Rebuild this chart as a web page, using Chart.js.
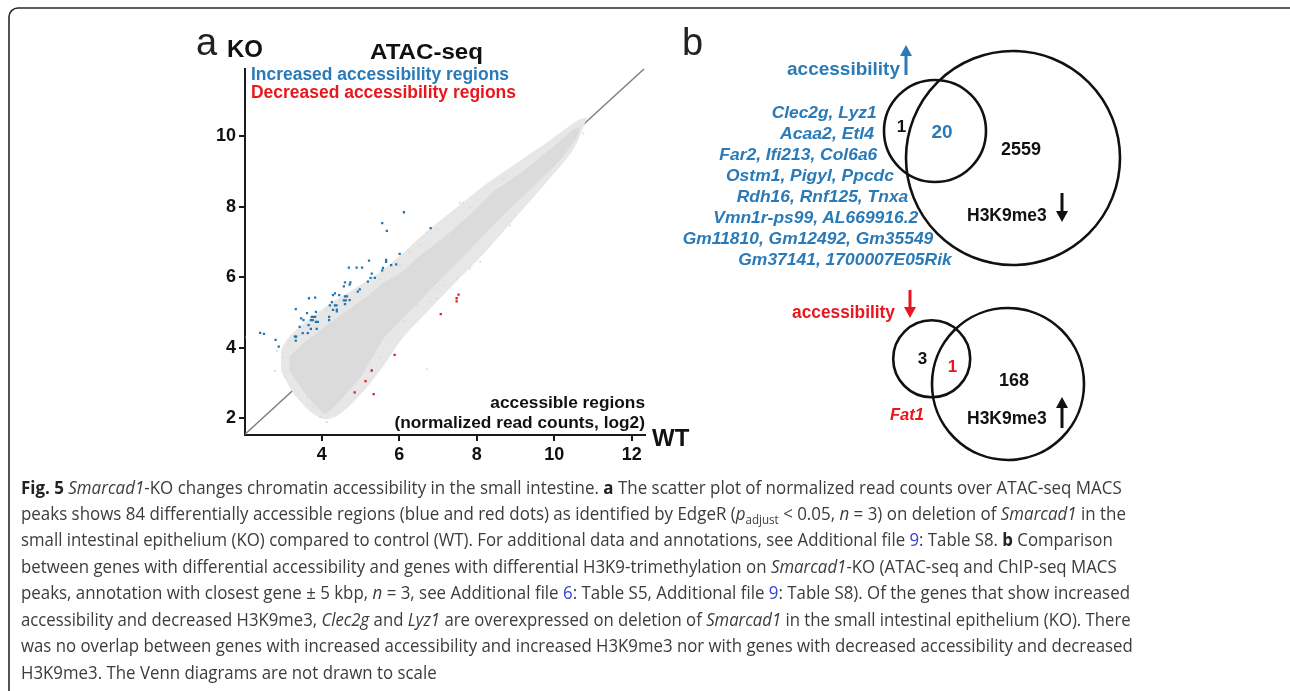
<!DOCTYPE html>
<html>
<head>
<meta charset="utf-8">
<script src="https://cdn.jsdelivr.net/npm/chart.js@4.4.1/dist/chart.umd.min.js"></script>
<style>
html, body { margin: 0; padding: 0; background: #fff; width: 1290px; height: 691px; overflow: hidden; }
#plot { position: absolute; left: 180px; top: 55px; width: 470px; height: 415px; }
#overlay { position: absolute; left: 0; top: 0; pointer-events: none; }
</style>
</head>
<body>
<div id="plot"><canvas id="scatter"></canvas></div>
<svg id="overlay" width="1290" height="691"></svg>
<script>
// ---- Panel a: ATAC-seq scatter (log2 normalized read counts, WT vs KO) ----
const xTicks = [4, 6, 8, 10, 12]
const yTicks = [2, 4, 6, 8, 10]

// Increased accessibility regions (blue)
const blueX = [6.12,5.56,5.68,6.81,6.01,5.22,5.66,5.66,5.92,5.79,5.58,5.56,4.70,4.90,5.04,5.29,5.26,5.37,5.19,4.60,4.74,4.72,4.57,4.98,4.93,4.34,4.29,4.45,4.60,4.65,3.67,3.83,4.26,4.57,4.62,4.72,4.60,4.21,4.34,4.38,3.33,4.29,4.39,4.39,3.62,3.85,4.19,3.74,3.78,3.83,3.47,3.53,3.72,3.77,3.85,3.90,4.19,3.66,3.43,3.72,3.87,2.41,2.51,3.31,3.34,3.51,3.64,2.81,3.33,2.89,2.01]
const blueY = [7.85,7.54,7.32,7.40,6.67,6.48,6.50,6.44,6.37,6.35,6.27,6.20,6.28,6.28,6.28,6.11,5.99,5.99,5.88,5.86,5.86,5.80,5.75,5.66,5.60,5.55,5.50,5.50,5.46,5.46,5.41,5.43,5.30,5.35,5.35,5.36,5.24,5.21,5.21,5.21,5.10,5.08,5.09,5.04,4.99,5.02,4.88,4.88,4.88,4.88,4.84,4.79,4.79,4.79,4.74,4.74,4.79,4.65,4.60,4.54,4.54,4.43,4.40,4.32,4.32,4.42,4.42,4.23,4.21,4.04,4.30]

// Decreased accessibility regions (red)
const redX = [7.53,7.48,7.48,7.07,5.88,5.29,5.13,4.85,5.34]
const redY = [5.51,5.41,5.32,4.96,3.80,3.36,3.06,2.74,2.69]

// All other regions: dense cloud outline, sparse fringe outline, scattered outliers (gray)
const cloudTopX = [3.18,3.18,3.50,3.95,4.65,5.25,5.55,6.10,6.45,7.23,7.90,8.40,9.15,9.89,10.49,10.65]
const cloudTopY = [3.35,3.75,4.10,4.48,5.04,5.51,5.80,6.16,6.53,7.19,7.84,8.40,8.96,9.62,10.18,10.25]
const cloudBottomX = [3.18,3.53,3.87,4.09,4.39,4.99,5.59,6.32,7.10,7.83,8.60,9.42,10.15,10.58,10.65]
const cloudBottomY = [3.35,2.79,2.33,2.12,2.42,3.17,4.29,5.12,6.00,6.81,7.70,8.55,9.34,9.99,10.25]
const fringeTopX = [2.95,2.95,3.15,3.60,4.20,4.80,5.50,6.10,6.70,7.50,8.30,9.10,9.90,10.60,10.85]
const fringeTopY = [3.35,3.90,4.30,4.75,5.25,5.65,6.15,6.70,7.30,8.00,8.70,9.30,9.90,10.45,10.55]
const fringeBottomX = [2.95,3.25,3.70,4.10,4.50,5.10,5.60,6.10,6.70,7.40,8.20,9.00,9.80,10.50,10.85]
const fringeBottomY = [3.35,2.75,2.20,1.98,2.15,2.80,3.50,4.30,5.00,5.80,6.70,7.70,8.70,9.65,10.55]
const haloX = [2.84,3.01,2.79,3.05,3.61,3.78,3.96,4.13,4.90,5.25,5.50,6.71,5.76,6.11,6.45,6.97,3.18,3.44,3.70,4.13,4.47,4.90,5.50,6.71,6.97,6.54,6.28,6.02,7.57,7.83,8.43,8.69,8.86,8.09,7.83,7.48,7.14,6.97,6.79,10.58,10.75,7.65]
const haloY = [3.92,3.73,3.35,3.17,2.61,2.33,2.04,1.90,3.07,3.35,3.73,3.40,4.48,4.76,5.23,5.69,4.20,4.38,4.66,5.04,5.32,5.60,5.97,7.28,7.37,6.91,6.73,6.35,8.12,8.00,8.31,8.78,7.47,6.44,6.25,5.97,5.79,5.41,5.32,10.09,10.09,8.12]

// Reference diagonal
const diagX = [2.02, 12.32]
const diagY = [1.55, 11.92]

// ---- Panel b: Venn counts and gene names ----
const vennUpCounts = [1, 20, 2559]       // accessibility up only, overlap, H3K9me3 down only
const vennDownCounts = [3, 1, 168]       // accessibility down only, overlap, H3K9me3 up only
const upGenes = ['Clec2g, Lyz1', 'Acaa2, Etl4', 'Far2, Ifi213, Col6a6', 'Ostm1, Pigyl, Ppcdc',
  'Rdh16, Rnf125, Tnxa', 'Vmn1r-ps99, AL669916.2', 'Gm11810, Gm12492, Gm35549', 'Gm37141, 1700007E05Rik']
const downGenes = ['Fat1']

const BLUE = '#1f77b4'
const BLUE_TXT = '#2a7ab7'
const RED = '#e8171e'
const GRAY = '#dbdbdb'
const LIGHT = '#e7e7e7'
const BOLD = 'Liberation Sans, Arial, sans-serif'

const pts = (xs, ys) => xs.map((x, i) => ({ x: x, y: ys[i] }))

const axisFont = { family: BOLD, weight: 'bold', size: 18 }

new Chart(document.getElementById('scatter'), {
	type: 'scatter',
	data: {
		datasets: [
			{ data: pts(blueX, blueY), backgroundColor: BLUE, pointStyle: 'rect', pointRadius: 1.6, borderWidth: 0, order: 0 },
			{ data: pts(redX, redY), backgroundColor: RED, pointStyle: 'rect', pointRadius: 1.6, borderWidth: 0, order: 0 },
			{ data: pts(haloX, haloY), backgroundColor: GRAY, pointStyle: 'rect', pointRadius: 1.3, borderWidth: 0, order: 1 },
			{ data: pts(cloudTopX, cloudTopY), showLine: true, pointRadius: 0, borderWidth: 1, borderColor: GRAY,
				backgroundColor: GRAY, fill: '+1', tension: 0, order: 2 },
			{ data: pts(cloudBottomX, cloudBottomY), showLine: true, pointRadius: 0, borderWidth: 1, borderColor: GRAY,
				fill: false, tension: 0, order: 2 },
			{ data: pts(fringeTopX, fringeTopY), showLine: true, pointRadius: 0, borderWidth: 0, borderColor: 'rgba(0,0,0,0)',
				backgroundColor: LIGHT, fill: '+1', tension: 0.3, order: 2.5 },
			{ data: pts(fringeBottomX, fringeBottomY), showLine: true, pointRadius: 0, borderWidth: 0, borderColor: 'rgba(0,0,0,0)',
				fill: false, tension: 0.3, order: 2.5 },
			{ data: pts(diagX, diagY), showLine: true, pointRadius: 0, borderWidth: 1.5, borderColor: '#7f7f7f',
				fill: false, order: 3 }
		]
	},
	options: {
		responsive: true,
		maintainAspectRatio: false,
		animation: false,
		events: [],
		layout: { padding: { top: 10, right: 5, left: 0, bottom: 0 } },
		plugins: { legend: { display: false }, tooltip: { enabled: false } },
		scales: {
			x: {
				type: 'linear', min: 2.02, max: 12.34,
				afterBuildTicks: (s) => { s.ticks = xTicks.map(v => ({ value: v })) },
				afterFit: (s) => { s.height = 35 },
				border: { display: true, color: '#1a1a1a', width: 2 },
				grid: { display: true, drawOnChartArea: false, drawTicks: true, tickLength: 6, color: '#1a1a1a', lineWidth: 2 },
				ticks: { font: axisFont, color: '#111', padding: 3, maxRotation: 0 }
			},
			y: {
				type: 'linear', min: 1.53, max: 11.92,
				afterBuildTicks: (s) => { s.ticks = yTicks.map(v => ({ value: v })) },
				afterFit: (s) => { s.width = 65 },
				border: { display: true, color: '#1a1a1a', width: 2 },
				grid: { display: true, drawOnChartArea: false, drawTicks: true, tickLength: 6, color: '#1a1a1a', lineWidth: 2 },
				ticks: { font: axisFont, color: '#111', padding: 3 }
			}
		}
	}
})

// ---- Overlay: labels, Venn diagrams, caption ----
const NS = 'http://www.w3.org/2000/svg'
const svg = document.getElementById('overlay')

function el(name, attrs) {
	const e = document.createElementNS(NS, name)
	for (const k in attrs) e.setAttribute(k, attrs[k])
	svg.appendChild(e)
	return e
}

function txt(s, x, y, o) {
	const t = el('text', {
		x: x, y: y,
		'font-family': o.family || BOLD,
		'font-size': o.size,
		'font-weight': o.weight || 'bold',
		'font-style': o.italic ? 'italic' : 'normal',
		fill: o.color || '#111',
		'text-anchor': o.anchor || 'start'
	})
	if (o.len) { t.setAttribute('textLength', o.len); t.setAttribute('lengthAdjust', 'spacingAndGlyphs') }
	t.textContent = s
	return t
}

function arrow(x, yTail, yHead, color) {
	const dir = yHead < yTail ? -1 : 1
	const headLen = 11
	const neck = yHead - dir * headLen
	el('line', { x1: x, y1: yTail, x2: x, y2: neck, stroke: color, 'stroke-width': 3 })
	el('polygon', { points: `${x - 6},${neck} ${x + 6},${neck} ${x},${yHead}`, fill: color })
}

// frame
el('rect', { x: 9, y: 8, width: 1300, height: 700, rx: 9, ry: 9, fill: 'none', stroke: '#2a2a2a', 'stroke-width': 1.6 })

// panel a labels
txt('a', 196, 55, { size: 38, weight: 'normal', color: '#222' })
txt('KO', 227, 57, { size: 24 })
txt('ATAC-seq', 370, 58.5, { size: 22.5, len: 113 })
txt('Increased accessibility regions', 251, 79.5, { size: 17.5, color: BLUE_TXT, len: 258 })
txt('Decreased accessibility regions', 251, 97.5, { size: 17.5, color: RED, len: 265 })
txt('accessible regions', 645, 408, { size: 17.3, anchor: 'end' })
txt('(normalized read counts, log2)', 645, 428, { size: 17.3, anchor: 'end' })
txt('WT', 652, 446, { size: 24 })

// panel b
txt('b', 682, 55, { size: 38, weight: 'normal', color: '#222' })

// upper Venn: accessibility up vs H3K9me3 down
txt('accessibility', 787, 74.5, { size: 19, color: BLUE_TXT, len: 113 })
arrow(906, 75, 45, BLUE_TXT)
const upGeneLeft = [771.7, 780, 719.3, 726, 736.7, 713.3, 682.7, 738.3]
const upGeneRight = [876.7, 874, 877.3, 894, 908.3, 918.3, 933.3, 951.7]
upGenes.forEach((g, i) => {
	txt(g, upGeneLeft[i], 117.5 + i * 21.05, { size: 17.3, italic: true, color: BLUE_TXT, len: upGeneRight[i] - upGeneLeft[i] })
})
el('circle', { cx: 935, cy: 131, r: 51, fill: 'none', stroke: '#111', 'stroke-width': 2.6 })
el('circle', { cx: 1013, cy: 158, r: 107, fill: 'none', stroke: '#111', 'stroke-width': 2.6 })
txt(String(vennUpCounts[0]), 901.5, 131.5, { size: 17, anchor: 'middle' })
txt(String(vennUpCounts[1]), 942, 138, { size: 19, anchor: 'middle', color: BLUE_TXT })
txt(String(vennUpCounts[2]), 1021, 155, { size: 18, anchor: 'middle' })
txt('H3K9me3', 967, 221, { size: 17.5 })
arrow(1062, 193, 222, '#111')

// lower Venn: accessibility down vs H3K9me3 up
txt('accessibility', 792, 317.5, { size: 18, color: RED, len: 103 })
arrow(910, 290, 318, RED)
el('circle', { cx: 931.7, cy: 358.8, r: 38.5, fill: 'none', stroke: '#111', 'stroke-width': 2.6 })
el('circle', { cx: 1008, cy: 384, r: 76, fill: 'none', stroke: '#111', 'stroke-width': 2.6 })
txt(String(vennDownCounts[0]), 922.5, 363.5, { size: 17, anchor: 'middle' })
txt(String(vennDownCounts[1]), 952.5, 372, { size: 17, anchor: 'middle', color: RED })
txt(String(vennDownCounts[2]), 1014, 386, { size: 18, anchor: 'middle' })
txt(downGenes[0], 890, 420, { size: 17.3, italic: true, color: RED, len: 34 })
txt('H3K9me3', 967, 424, { size: 17.5 })
arrow(1062, 428, 397, '#111')

// caption
const LINK = '#3443d6'
const captionLines = [
	[['b', 'Fig. 5'], ['n', ' '], ['i', 'Smarcad1'], ['n', '-KO changes chromatin accessibility in the small intestine. '], ['b', 'a'], ['n', ' The scatter plot of normalized read counts over ATAC-seq MACS']],
	[['n', 'peaks shows 84 differentially accessible regions (blue and red dots) as identified by EdgeR ('], ['i', 'p'], ['s', 'adjust'], ['n', ' < 0.05, '], ['i', 'n'], ['n', ' = 3) on deletion of '], ['i', 'Smarcad1'], ['n', ' in the']],
	[['n', 'small intestinal epithelium (KO) compared to control (WT). For additional data and annotations, see Additional file '], ['l', '9'], ['n', ': Table S8. '], ['b', 'b'], ['n', ' Comparison']],
	[['n', 'between genes with differential accessibility and genes with differential H3K9-trimethylation on '], ['i', 'Smarcad1'], ['n', '-KO (ATAC-seq and ChIP-seq MACS']],
	[['n', 'peaks, annotation with closest gene \u00b1 5 kbp, '], ['i', 'n'], ['n', ' = 3, see Additional file '], ['l', '6'], ['n', ': Table S5, Additional file '], ['l', '9'], ['n', ': Table S8). Of the genes that show increased']],
	[['n', 'accessibility and decreased H3K9me3, '], ['i', 'Clec2g'], ['n', ' and '], ['i', 'Lyz1'], ['n', ' are overexpressed on deletion of '], ['i', 'Smarcad1'], ['n', ' in the small intestinal epithelium (KO). There']],
	[['n', 'was no overlap between genes with increased accessibility and increased H3K9me3 nor with genes with decreased accessibility and decreased']],
	[['n', 'H3K9me3. The Venn diagrams are not drawn to scale']]
]
const captionEnds = [1121.7, 1126, 1112.7, 1116.7, 1130, 1130.7, 1132.7, null]
const capX = 21
const ratios = []
const capTexts = captionLines.map((segs, i) => {
	const t = el('text', { x: capX, y: 493.5 + i * 26.45, 'font-family': 'Open Sans, Noto Sans, sans-serif', 'font-size': 17.5, fill: '#3c3c3c' })
	let sub = false
	segs.forEach(([k, s]) => {
		const ts = document.createElementNS(NS, 'tspan')
		if (k === 'b') { ts.setAttribute('font-weight', 'bold'); ts.setAttribute('fill', '#222') }
		if (k === 'i') ts.setAttribute('font-style', 'italic')
		if (k === 'l') ts.setAttribute('fill', LINK)
		if (k === 's') { ts.setAttribute('font-size', 12); ts.setAttribute('dy', 4); sub = true }
		else if (sub) { ts.setAttribute('dy', -4); sub = false }
		ts.textContent = s
		t.appendChild(ts)
	})
	return t
})
capTexts.forEach((t, i) => {
	const natural = t.getComputedTextLength()
	if (captionEnds[i] !== null) ratios.push((captionEnds[i] - capX) / natural)
})
const avgRatio = ratios.reduce((a, b) => a + b, 0) / ratios.length
capTexts.forEach((t, i) => {
	const natural = t.getComputedTextLength()
	const len = captionEnds[i] !== null ? captionEnds[i] - capX : natural * avgRatio
	t.setAttribute('textLength', len)
	t.setAttribute('lengthAdjust', 'spacingAndGlyphs')
})
</script>
</body>
</html>
